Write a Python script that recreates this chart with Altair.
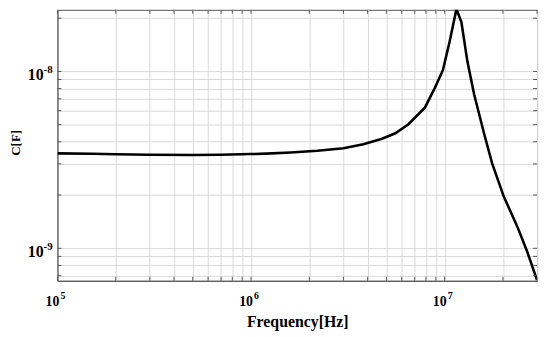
import altair as alt
import pandas as pd

freq = [1e5, 1.5e5, 2e5, 3e5, 5e5, 7e5, 1e6, 1.2e6, 1.6e6, 2.2e6, 3e6, 3.8e6,
        4.75e6, 5.56e6, 6.5e6, 7.9e6, 8.9e6, 9.8e6, 1.06e7, 1.15e7, 1.22e7,
        1.31e7, 1.42e7, 1.6e7, 1.76e7, 2.02e7, 2.37e7, 2.66e7, 3.0e7]
cap = [3.44e-9, 3.42e-9, 3.40e-9, 3.38e-9, 3.37e-9, 3.38e-9, 3.41e-9, 3.43e-9,
       3.48e-9, 3.56e-9, 3.68e-9, 3.88e-9, 4.16e-9, 4.47e-9, 5.03e-9, 6.24e-9,
       8.07e-9, 1.02e-8, 1.47e-8, 2.25e-8, 1.90e-8, 1.14e-8, 7.41e-9, 4.43e-9,
       3.01e-9, 1.96e-9, 1.33e-9, 9.66e-10, 6.6e-10]

x_ticks = [m * 10 ** e for e in (5, 6) for m in range(1, 10)] + [1e7, 2e7, 3e7]
y_ticks = [7e-10, 8e-10, 9e-10] + [m * 1e-9 for m in range(1, 10)] + [1e-8, 2e-8]

x_major = [1e5, 1e6, 1e7]
x_exp = ["5", "6", "7"]
y_major = [1e-8, 1e-9]
y_exp = ["-8", "-9"]

W, H = 485, 274
font = "Liberation Serif"
XD = [1e5, 3e7]
YD = [6.55e-10, 2.23e-8]

xs = alt.Scale(type="log", domain=XD, nice=False)
ys = alt.Scale(type="log", domain=YD, nice=False)

df = pd.DataFrame({"f": freq, "c": cap})
xt = pd.DataFrame({"v": x_ticks})
yt = pd.DataFrame({"v": y_ticks})
xm = pd.DataFrame({"v": x_major, "e": x_exp})
ym = pd.DataFrame({"v": y_major, "e": y_exp})

line = alt.Chart(df).mark_line(color="black", strokeWidth=2.6, clip=True).encode(
    x=alt.X("f:Q", scale=xs,
            axis=alt.Axis(values=x_ticks, labels=False, ticks=False, grid=True,
                          title="Frequency[Hz]", titleY=46, titleBaseline="alphabetic",
                          titleFontSize=16)),
    y=alt.Y("c:Q", scale=ys,
            axis=alt.Axis(values=y_ticks, labels=False, ticks=False, grid=True,
                          title="C[F]", titleX=-42, titleY=134, titleAlign="center",
                          titleBaseline="middle", titleFontSize=13)),
)

tick_col = "#555555"
xb = alt.Chart(xt).mark_rule(color=tick_col, strokeWidth=1).encode(
    x=alt.X("v:Q", scale=xs), y=alt.value(H), y2=alt.value(H - 4))
xtop = alt.Chart(xt).mark_rule(color=tick_col, strokeWidth=1).encode(
    x=alt.X("v:Q", scale=xs), y=alt.value(0), y2=alt.value(4))
yl = alt.Chart(yt).mark_rule(color=tick_col, strokeWidth=1).encode(
    y=alt.Y("v:Q", scale=ys), x=alt.value(0), x2=alt.value(4))
yr = alt.Chart(yt).mark_rule(color=tick_col, strokeWidth=1).encode(
    y=alt.Y("v:Q", scale=ys), x=alt.value(W), x2=alt.value(W - 4))

x_base = alt.Chart(xm).mark_text(
    text="10", font=font, fontSize=14, fontWeight="bold", align="right",
    baseline="alphabetic", dx=2, color="black").encode(
    x=alt.X("v:Q", scale=xs), y=alt.value(300))
x_sup = alt.Chart(xm).mark_text(
    font=font, fontSize=10, fontWeight="bold", align="left",
    baseline="alphabetic", dx=3, color="black").encode(
    x=alt.X("v:Q", scale=xs), y=alt.value(292), text="e:N")

y_base = alt.Chart(ym).mark_text(
    text="10", font=font, fontSize=16, fontWeight="bold", align="right",
    baseline="alphabetic", dx=-14, dy=9, color="black").encode(
    y=alt.Y("v:Q", scale=ys), x=alt.value(0))
y_sup = alt.Chart(ym).mark_text(
    font=font, fontSize=11, fontWeight="bold", align="left",
    baseline="alphabetic", dx=-14, dy=1.5, color="black").encode(
    y=alt.Y("v:Q", scale=ys), x=alt.value(0), text="e:N")

chart = alt.layer(line, xb, xtop, yl, yr, x_base, x_sup, y_base, y_sup).properties(
    width=W, height=H,
    autosize=alt.AutoSizeParams(type="none"),
    padding={"left": 50, "top": 0, "right": 5, "bottom": 55},
).configure_view(
    stroke="#555555", strokeWidth=1
).configure_axis(
    gridColor="#d9d9d9", gridWidth=1, domainColor="#555555",
    titleFont=font, titleFontWeight="bold", titleColor="black",
)

chart.save("out.html", embed_options={"renderer": "svg", "actions": False})
